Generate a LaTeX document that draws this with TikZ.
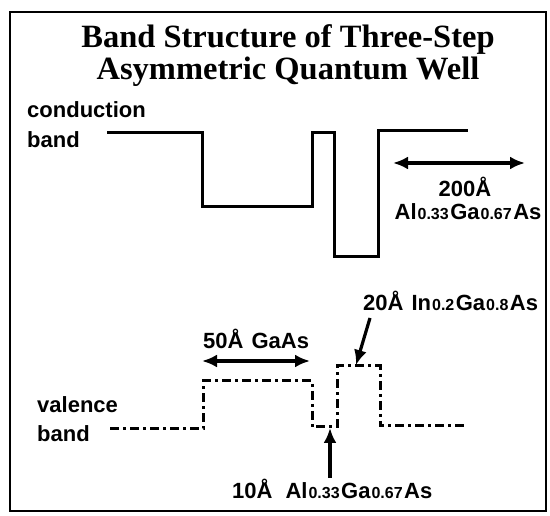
\documentclass[tikz,border=0pt]{standalone}
\usepackage{fontspec}
\setmainfont{Liberation Sans}
\newfontfamily\titlefont{Liberation Serif}
\usetikzlibrary{arrows.meta}
\newcommand{\subsz}{\fontsize{16}{16}\selectfont}
\newcommand{\alloy}[4]{#1\kern1pt{\subsz #2}\kern1.5pt#3\kern1pt{\subsz #4}\kern1.5pt As}
\tikzset{
  frame/.style={draw, line width=2.8pt},
  ttl/.style={font=\titlefont\bfseries\fontsize{32.5}{32}\selectfont, inner sep=0pt},
  lbl/.style={font=\bfseries\fontsize{22}{26}\selectfont, inner sep=0pt},
  cband/.style={line width=3pt},
  vband/.style={line width=3pt, dash pattern=on 9pt off 4pt on 3pt off 4pt},
  arrow/.style={-{Latex[length=15pt,width=13pt]}, line width=3.2pt},
  dblarrow/.style={{Latex[length=15pt,width=13pt]}-{Latex[length=15pt,width=13pt]}, line width=3.2pt}
}

\begin{document}
\begin{tikzpicture}[x=1pt, y=-1pt]
  \useasboundingbox (0,0) rectangle (550,516);
  \draw[frame] (10,12) rectangle (546,511);
  % title
  \node[ttl, anchor=base] (title1) at (288,48) {Band Structure of Three-Step};
  \node[ttl, anchor=base] (title2) at (288,80) {Asymmetric Quantum Well};
  % band labels
  \node[lbl, anchor=base west] (condlbl) at (27,118) {conduction};
  \node[lbl, anchor=base west] (condband) at (27,148) {band};
  \node[lbl, anchor=base west] (vallbl) at (37,413) {valence};
  \node[lbl, anchor=base west] (valband) at (37,442) {band};
  % conduction band profile
  \draw[cband] (107,133) -- (202,133) -- (202,207) -- (312,207) -- (312,133)
    -- (334,133) -- (334,257) -- (378,257) -- (378,131) -- (468,131);
  % valence band profile
  \draw[vband] (110,429) -- (203,429) -- (203,381) -- (312,381) -- (312,427)
    -- (337,427) -- (337,366) -- (380,366) -- (380,426) -- (467,426);
  % barrier width
  \coordinate (barL) at (393,163);
  \coordinate (barR) at (525,163);
  \draw[dblarrow] (barL) -- (barR);
  \node[lbl, anchor=base] (barw) at (465,197) {200Å};
  \node[lbl, anchor=base] (barmat) at (468,220) {\alloy{Al}{0.33}{Ga}{0.67}};
  % GaAs step
  \coordinate (stepL) at (202,361);
  \coordinate (stepR) at (310,361);
  \draw[dblarrow] (stepL) -- (stepR);
  \node[lbl, anchor=base west] (steplbl) at (203,349) {50Å\kern8pt GaAs};
  % InGaAs well
  \node[lbl, anchor=base west] (inlbl) at (363,311) {20Å\kern8pt\alloy{In}{0.2}{Ga}{0.8}};
  \coordinate (inS) at (370,318);
  \coordinate (inwell) at (356,365);
  \draw[arrow] (inS) -- (inwell);
  % thin AlGaAs barrier
  \node[lbl, anchor=base west] (allbl) at (232,498) {10Å\kern13pt\alloy{Al}{0.33}{Ga}{0.67}};
  \coordinate (alS) at (330,478);
  \coordinate (algap) at (330,428);
  \draw[arrow] (alS) -- (algap);
\end{tikzpicture}
\end{document}
